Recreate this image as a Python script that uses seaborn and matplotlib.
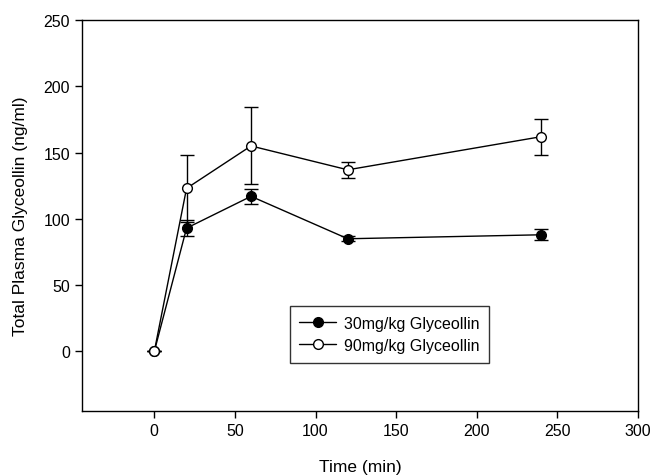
import numpy as np
import pandas as pd
import seaborn as sns
from matplotlib import pyplot as plt

time = [0, 20, 60, 120, 240]
conc_30 = [0, 93, 117, 85, 88]
err_30 = [0, 6, 5.5, 2, 4]
conc_90 = [0, 123, 155, 137, 162]
err_90 = [0, 25.5, 29, 6, 13.5]

sns.set_style("ticks")
plt.rcParams['font.family'] = ['Liberation Sans', 'DejaVu Sans']
plt.rcParams['text.color'] = 'black'
plt.rcParams['axes.labelcolor'] = 'black'

fig = plt.figure(figsize=(6.54, 4.77), dpi=100)
ax = fig.add_axes([0.125, 0.136, 0.8505, 0.82])

series = [("30mg/kg Glyceollin", conc_30, err_30, "black"),
          ("90mg/kg Glyceollin", conc_90, err_90, "white")]

for label, y, err, face in series:
    df = pd.DataFrame({"time": time, "conc": y})
    ax.errorbar(time, y, yerr=err, fmt="none", ecolor="black",
                elinewidth=1, capsize=5, capthick=1, zorder=2)
    sns.lineplot(data=df, x="time", y="conc", ax=ax, color="black",
                 linewidth=1, marker="o", markersize=7,
                 markerfacecolor=face, markeredgecolor="black",
                 markeredgewidth=1, label=label, zorder=3)

ax.set_xlim(-45, 300)
ax.set_ylim(-45, 250)
ax.set_xticks(range(0, 301, 50))
ax.set_yticks(range(0, 251, 50))
ax.tick_params(direction="out", length=5, width=1, labelsize=11.5, colors="black")
for s in ax.spines.values():
    s.set_linewidth(1)
    s.set_color("black")
ax.set_xlabel("Time (min)", fontsize=12.5, labelpad=15)
ax.set_ylabel("Total Plasma Glyceollin (ng/ml)", fontsize=12.5, labelpad=11)

leg = ax.legend(loc="upper left", bbox_to_anchor=(0.374, 0.268), fontsize=11.5,
                frameon=True, fancybox=False, edgecolor="black",
                handlelength=2.3, handletextpad=0.5, borderpad=0.6,
                labelspacing=0.45, borderaxespad=0)
leg.get_frame().set_linewidth(1)

fig.savefig("out.png", dpi=100)
